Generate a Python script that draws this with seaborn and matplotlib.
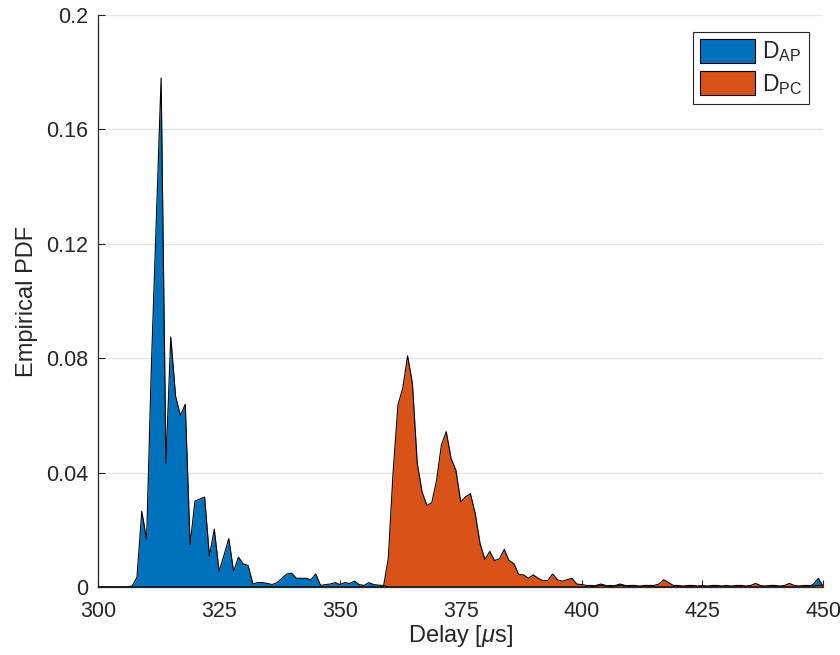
import numpy as np
import pandas as pd
import matplotlib
matplotlib.use("Agg")
import matplotlib.pyplot as plt
from matplotlib.patches import Patch
import seaborn as sns

# ==========================================================
# Data (empirical PDF, 1 us bins)
# ==========================================================

delay = np.arange(300, 451)

d_ap = [0, 0, 0, 0, 0, 0, 0,                                   # 300-306
        0.0003, 0.0033, 0.0264, 0.0166, 0.078, 0.128, 0.178,    # 307-313
        0.0433, 0.0874, 0.0666, 0.0599, 0.0639, 0.0148, 0.0300, # 314-320
        0.0307, 0.0314, 0.0107, 0.0202, 0.0054, 0.011, 0.0169,  # 321-327
        0.0054, 0.0104, 0.008, 0.0075, 0.001, 0.0015, 0.0015,   # 328-334
        0.0012, 0.0008, 0.0015, 0.003, 0.0045, 0.0048, 0.003,   # 335-341
        0.003, 0.003, 0.0025, 0.0045, 0.0005, 0.0008, 0.001,    # 342-348
        0.0015, 0.0008, 0.0015, 0.0012, 0.002, 0.0008, 0.0005,  # 349-355
        0.0015, 0.0008, 0.0006, 0.0005,                         # 356-359
        0, 0, 0, 0, 0, 0, 0, 0, 0, 0,                           # 360-369
        0, 0, 0, 0, 0, 0, 0, 0, 0, 0,                           # 370-379
        0, 0, 0, 0, 0, 0, 0, 0, 0, 0,                           # 380-389
        0, 0, 0, 0, 0, 0, 0, 0, 0, 0,                           # 390-399
        0, 0, 0, 0.0005, 0.001, 0.0005, 0, 0.0005, 0.001, 0.0005,  # 400-409
        0, 0, 0, 0, 0, 0, 0, 0, 0, 0,                           # 410-419
        0, 0, 0, 0, 0, 0, 0, 0, 0, 0,                           # 420-429
        0, 0, 0, 0, 0, 0, 0, 0, 0, 0,                           # 430-439
        0, 0, 0, 0, 0, 0, 0, 0, 0.001, 0.003, 0]                # 440-450

d_pc = [0] * 60 + [                                             # 300-359
        0.0098, 0.040, 0.0636, 0.0695, 0.0808, 0.0712, 0.0432,  # 360-366
        0.0332, 0.0285, 0.0294, 0.0373, 0.0496, 0.0543, 0.0449, # 367-373
        0.0408, 0.0297, 0.0315, 0.0326, 0.0256, 0.0151, 0.0096, # 374-380
        0.0124, 0.0092, 0.0098, 0.0131, 0.0092, 0.0081, 0.0043, # 381-387
        0.0042, 0.003, 0.0042, 0.003, 0.0022, 0.0022, 0.0045,   # 388-394
        0.0025, 0.002, 0.0025, 0.003, 0.001, 0.0008, 0.0005,    # 395-401
        0.0005, 0.0003, 0.0005, 0.0003, 0.0005, 0.0003, 0.0005, # 402-408
        0.0003, 0.0005, 0.0005, 0.0003, 0.0005, 0.0005, 0.0005, # 409-415
        0.001, 0.0025, 0.0015, 0.0005, 0.0005, 0.0003, 0.0005,  # 416-422
        0.0005, 0.0003, 0.0005, 0.0003, 0.0005, 0.0005, 0.0003, # 423-429
        0.0005, 0.0003, 0.0005, 0.0005, 0.0003, 0.0005, 0.0012, # 430-436
        0.0005, 0.0003, 0.0005, 0.0005, 0.0003, 0.0005, 0.0012, # 437-443
        0.0005, 0.0003, 0.0005, 0.0005, 0.0003, 0.0005, 0.0005] # 444-450

labels = [r"$\mathregular{D_{AP}}$", r"$\mathregular{D_{PC}}$"]
colors = ["#0072BD", "#D95319"]

x_ticks = [300, 325, 350, 375, 400, 425, 450]
y_ticks = [0, 0.04, 0.08, 0.12, 0.16, 0.2]
y_tick_labels = ["0", "0.04", "0.08", "0.12", "0.16", "0.2"]

df = pd.DataFrame({"Delay": delay, "AP": d_ap, "PC": d_pc})

# ==========================================================
# Style
# ==========================================================

sns.set_style("white")
plt.rcParams["font.family"] = ["Liberation Sans", "DejaVu Sans"]
plt.rcParams["mathtext.fontset"] = "custom"
plt.rcParams["mathtext.rm"] = "Liberation Sans"
plt.rcParams["mathtext.it"] = "Liberation Sans:italic"

fig = plt.figure(figsize=(8.4, 6.55), dpi=100)
ax = fig.add_axes([0.117, 0.104, 0.863, 0.873])

# ==========================================================
# Area plot
# ==========================================================

for col, color in zip(["AP", "PC"], colors):
    ax.fill_between(df["Delay"], df[col], 0, color=color, linewidth=0, zorder=2)
    sns.lineplot(data=df, x="Delay", y=col, color="black", linewidth=0.8,
                 ax=ax, zorder=3)

ax.set_xlim(300, 450)
ax.set_ylim(0, 0.2)
ax.set_xticks(x_ticks)
ax.set_yticks(y_ticks)
ax.set_yticklabels(y_tick_labels)

ax.grid(axis="y", color="#e3e3e3", linewidth=0.9, zorder=0)
ax.set_axisbelow(True)

for side in ["top", "right"]:
    ax.spines[side].set_visible(False)
for side in ["left", "bottom"]:
    ax.spines[side].set_color("#262626")
    ax.spines[side].set_linewidth(0.9)
ax.spines["left"].set_zorder(4)
ax.spines["bottom"].set_zorder(4)

ax.tick_params(direction="in", length=5, width=0.8, color="#262626",
               labelsize=15.5, labelcolor="#262626",
               left=True, bottom=True)
ax.tick_params(axis="y", pad=7)
ax.tick_params(axis="x", pad=10)

ax.set_xlabel(r"Delay [$\mu$s]", fontsize=17, color="#262626", labelpad=1)
ax.set_ylabel("Empirical PDF", fontsize=17, color="#262626", labelpad=6)

handles = [Patch(facecolor=c, edgecolor="black", linewidth=0.8) for c in colors]
leg = ax.legend(handles, labels, loc="upper right",
                bbox_to_anchor=(0.98, 0.97), fontsize=16.5,
                handlelength=2.4, handleheight=1.2, handletextpad=0.3,
                labelspacing=0.3, borderpad=0.3, borderaxespad=0,
                fancybox=False, framealpha=1, edgecolor="#262626")
leg.get_frame().set_linewidth(0.8)

plt.savefig("out.png", dpi=100)
